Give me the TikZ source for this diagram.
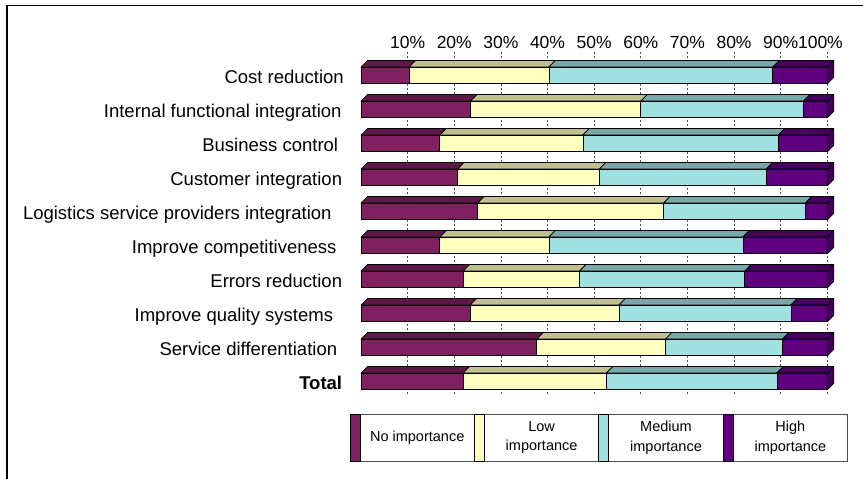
\documentclass[tikz,border=0pt]{standalone}
\usepackage{fontspec}
\setmainfont{Liberation Sans}
\usetikzlibrary{positioning}

\definecolor{noimp}{RGB}{128,32,96}
\definecolor{lowimp}{RGB}{255,255,192}
\definecolor{medimp}{RGB}{160,224,224}
\definecolor{highimp}{RGB}{96,0,128}

\begin{document}
\begin{tikzpicture}[
                x=1pt, y=-1pt,
                every node/.style={
                        inner sep=0pt,
                        font=\fontsize{17.5}{20}\selectfont
                    },
                catlabel/.style={anchor=base east, font=\fontsize{18.5}{21}\selectfont},
                ticklabel/.style={anchor=base},
                gridline/.style={draw=black!70, dash pattern=on 2pt off 2pt, line width=0.6pt},
                barface/.style={draw=black, line width=0.7pt, line join=round},
                swatch/.style={draw=black, line width=0.7pt},
                legtext/.style={align=center, font=\fontsize{14.5}{19.4}\selectfont}
            ]

            \useasboundingbox (0,0) rectangle (863,479);

            % Moldura
            \draw[line width=1.6pt] (7,479) |- (863,5.5);

            % Linhas de grade e escala
            \foreach \p in {10,20,...,100}
                \draw[gridline] ({361+4.663*\p},52) -- ({361+4.663*\p},396);
            \foreach \p in {10,20,...,90}
                \node[ticklabel] (tick\p) at ({361+4.663*\p},48) {\p\%};
            \node[anchor=base east] (tick100) at (843,48) {100\%};

            % Barras: rotulo / x do rotulo / limites acumulados
            \foreach \name/\lx/\a/\b/\c [count=\k from 0] in {
                    Cost reduction/344/10.3/40.3/88.3,
                    Internal functional integration/341.7/23.5/60.0/94.9,
                    Business control/338.3/16.9/47.6/89.5,
                    Customer integration/342.3/20.7/51.1/86.9,
                    Logistics service providers integration/331.7/25.0/64.9/95.3,
                    Improve competitiveness/336.7/16.9/40.3/81.9,
                    Errors reduction/342.3/21.9/46.9/82.3,
                    Improve quality systems/333.3/23.4/55.3/92.2,
                    Service differentiation/337.3/37.7/65.3/90.4,
                    \textbf{Total}/342.3/21.9/52.6/89.2}
            {
                \pgfmathsetmacro{\yt}{67+34*\k}
                \node[catlabel] (cat\k) at (\lx,\yt+16) {\name};
                \foreach \u/\v/\col in {0/\a/noimp, \a/\b/lowimp, \b/\c/medimp, \c/100/highimp} {
                    \draw[barface, fill=\col!75!black] ({361+4.663*\u},\yt) -- ++(6.5pt,6.5pt)
                        -- ++({4.663*(\v-\u)},0) -- ++(-6.5pt,-6.5pt) -- cycle;
                    \draw[barface, fill=\col] ({361+4.663*\u},\yt) rectangle ++({4.663*(\v-\u)},16.7);
                }
                \draw[barface, fill=highimp!67!black] (827.3,\yt) -- ++(6.5pt,6.5pt)
                    -- ++(0,16.7) -- ++(-6.5pt,-6.5pt) -- cycle;
            }

            % Legenda
            \draw[draw=black!70, line width=0.6pt] (350,414) rectangle (847.3,461.5);
            \foreach \col/\txt [count=\i from 0] in {
                    noimp/No importance,
                    lowimp/Low\\importance,
                    medimp/Medium\\importance,
                    highimp/High\\importance}
            {
                \draw[swatch, fill=\col] ({350+124.4*\i},414) rectangle ++(10,47.5);
                \node[legtext] (leg\i) at ({360+124.4*\i+57.2},437.75) {\txt};
            }

        \end{tikzpicture}
\end{document}
